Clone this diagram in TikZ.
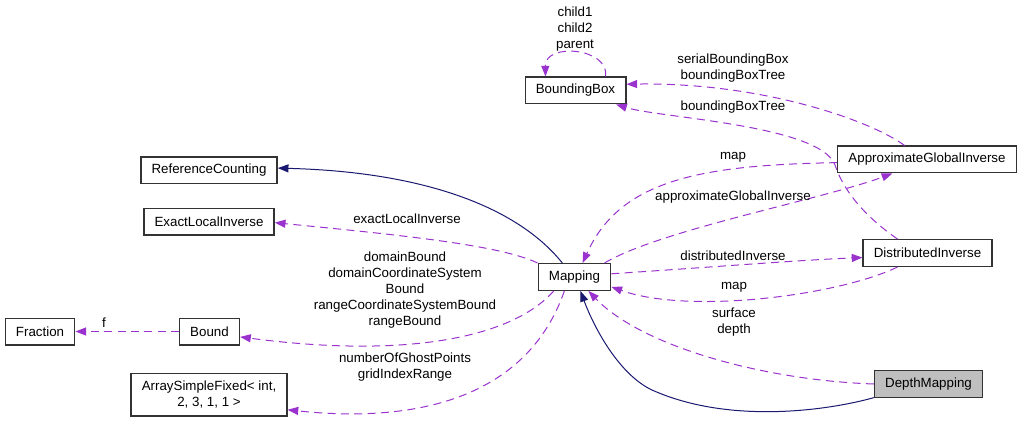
\documentclass[tikz,border=0pt]{standalone}
\usepackage{fontspec}
\setmainfont{Liberation Sans}
\usepackage{tikz}
\usetikzlibrary{positioning,calc,arrows.meta}
\definecolor{edgenavy}{HTML}{191970}
\definecolor{edgeorchid}{HTML}{9A32CD}
\definecolor{selfgray}{HTML}{BFBFBF}
\tikzstyle{cls} = [draw=black!80, line width=1pt, minimum height=20pt, inner xsep=8pt, inner ysep=2pt, align=center, font=\fontsize{10}{12}\selectfont, fill=white]
\tikzstyle{lbl} = [align=center, font=\fontsize{10}{12}\selectfont, inner sep=0pt]
\tikzstyle{inherit} = [edgenavy, line width=0.75pt, -{Triangle[length=8pt,width=6pt]}]
\tikzstyle{uses} = [edgeorchid, line width=0.75pt, dash pattern=on 6pt off 4pt, -{Triangle[length=8pt,width=6pt]}]

\begin{document}
\begin{tikzpicture}[x=0.75pt, y=-0.75pt]
        \useasboundingbox (0,0) rectangle (1024,424);
        % classes
        \node[cls] (BBox) at (575.5,90.5) {BoundingBox};
        \node[cls] (RefCount) at (209,170.5) {ReferenceCounting};
        \node[cls] (ELI) at (209,221.5) {ExactLocalInverse};
        \node[cls] (Fraction) at (40,331.5) {Fraction};
        \node[cls] (Bound) at (209.5,331.5) {Bound};
        \node[cls, minimum height=32pt] (Array) at (209,394.5) {ArraySimpleFixed< int,\\ 2, 3, 1, 1 >};
        \node[cls] (Mapping) at (574.5,277) {Mapping};
        \node[cls] (AGI) at (927,159.5) {ApproximateGlobalInverse};
        \node[cls] (DI) at (927.5,253) {DistributedInverse};
        \node[cls, fill=selfgray] (DM) at (928.5,384) {DepthMapping};

        % inheritance
        \draw[inherit] (Mapping.131) .. controls (520,210) and (430,172) .. (RefCount.2);
        \draw[inherit] (DM.-166) .. controls (830,410) and (730,425) .. (652,390)
                                 .. controls (620,375) and (595,330) .. (Mapping.-67);

        % members
        \draw[uses] (BBox.25) .. controls (610,48) and (545,42) .. (BBox.155);
        \draw[uses] (AGI.148) .. controls (870,120) and (760,82) .. (BBox.7);
        \draw[uses] (DI.155) .. controls (870,220) and (845,195) .. (835,165)
                             .. controls (820,125) and (660,118) .. (BBox.-19);
        \draw[uses] (AGI.182) .. controls (700,165) and (620,180) .. (Mapping.60);
        \draw[uses] (Mapping.25) .. controls (660,230) and (820,200) .. (AGI.-158);
        \draw[uses] (Mapping.5) .. controls (700,268) and (800,260) .. (DI.-176);
        \draw[uses] (DI.-155) .. controls (840,295) and (690,315) .. (Mapping.-15);
        \draw[uses] (DM.west) .. controls (760,380) and (640,345) .. (Mapping.-45);
        \draw[uses] (Mapping.north west) .. controls (500,245) and (400,235) .. (ELI.-1);
        \draw[uses] (Mapping.-146) .. controls (510,340) and (400,358) .. (Bound.-10);
        \draw[uses] (Mapping.-126) .. controls (530,390) and (430,425) .. (Array.-11);
        \draw[uses] (Bound.west) -- (Fraction.east);

        % labels
        \node[lbl] (lChild) at (575,29) {child1\\child2\\parent};
        \node[lbl] (lSerial) at (733,68) {serialBoundingBox\\boundingBoxTree};
        \node[lbl] (lTree) at (733,107) {boundingBoxTree};
        \node[lbl] (lMapA) at (733,157) {map};
        \node[lbl] (lAGI) at (733,197) {approximateGlobalInverse};
        \node[lbl] (lELI) at (407,219) {exactLocalInverse};
        \node[lbl] (lDist) at (733,256) {distributedInverse};
        \node[lbl] (lMapB) at (734,287) {map};
        \node[lbl] (lBound) at (405,290.5) {domainBound\\domainCoordinateSystem\\Bound\\rangeCoordinateSystemBound\\rangeBound};
        \node[lbl] (lF) at (104,323) {f};
        \node[lbl] (lSurface) at (734,322) {surface\\depth};
        \node[lbl] (lArray) at (405,367.5) {numberOfGhostPoints\\gridIndexRange};
\end{tikzpicture}
\end{document}
